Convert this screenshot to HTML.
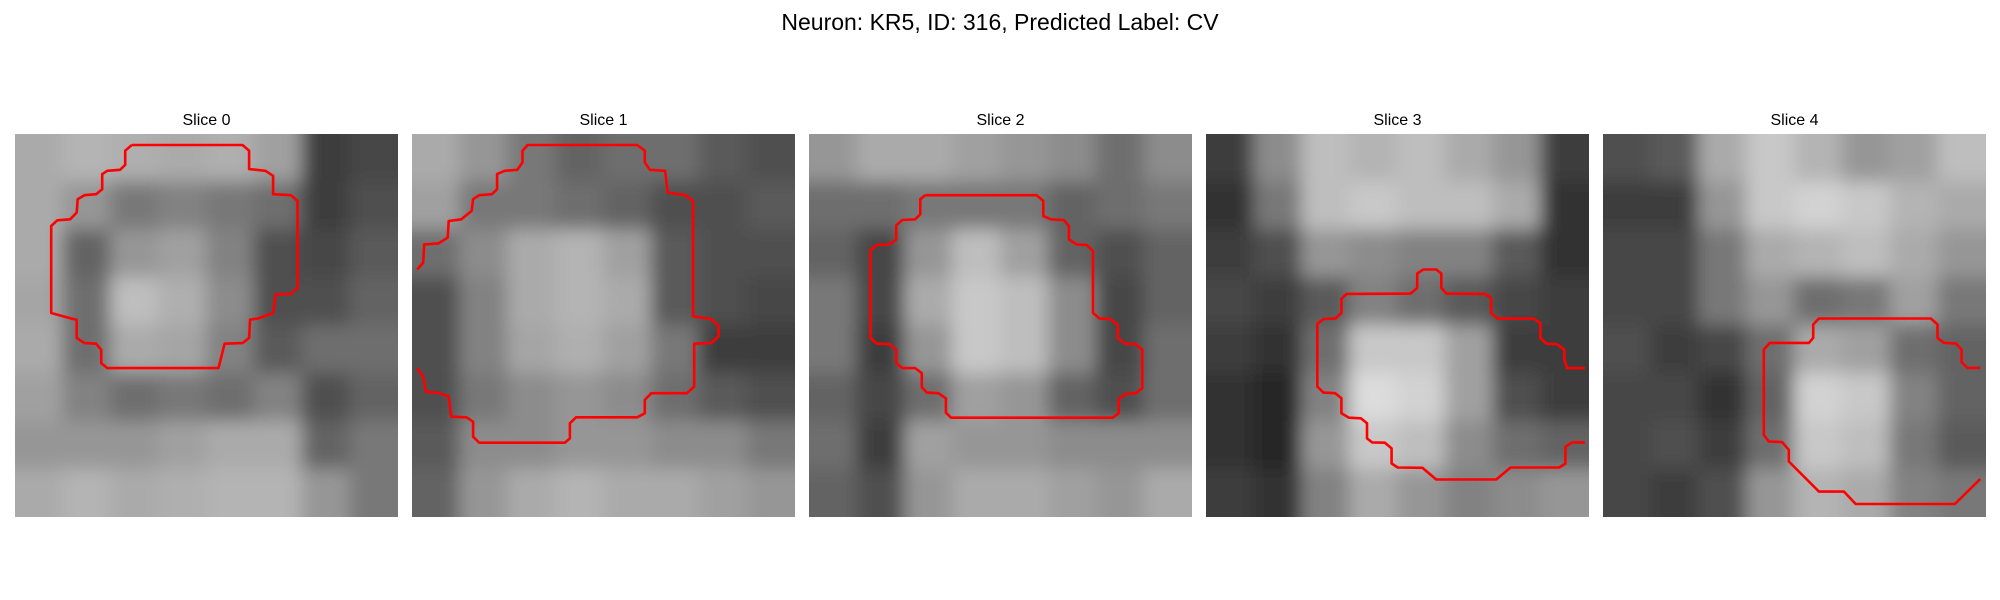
<!DOCTYPE html>
<html><head><meta charset="utf-8"><style>
html,body{margin:0;padding:0;background:#fff;}
svg{display:block;font-family:"Liberation Sans","DejaVu Sans",sans-serif;}
</style></head><body>
<svg id="fig" width="2000" height="600" viewBox="0 0 2000 600" xmlns="http://www.w3.org/2000/svg">
<defs>
<filter id="bl" x="-0.2" y="-0.2" width="1.4" height="1.4"><feGaussianBlur stdDeviation="9"/></filter>
</defs>
<text x="1000" y="30" text-anchor="middle" font-size="23" fill="#000">Neuron: KR5, ID: 316, Predicted Label: CV</text>
</svg>
<script>
const panelTitles = ["Slice 0","Slice 1","Slice 2","Slice 3","Slice 4"];
const gray0 = [[170,180,175,170,175,160,60,70],[170,150,120,130,120,110,60,80],[170,100,150,160,130,80,70,90],[165,110,190,175,140,80,80,100],[170,110,170,165,130,90,110,110],[160,130,110,120,110,130,80,100],[150,150,150,160,170,170,100,120],[170,180,170,175,180,180,150,120]];
const gray1 = [[170,150,120,100,110,110,90,80],[160,120,120,110,100,80,80,90],[110,140,170,180,160,90,80,80],[80,130,170,180,170,90,80,70],[80,130,165,175,160,120,60,60],[80,120,140,150,140,110,90,80],[90,140,140,150,150,140,140,120],[100,150,170,180,170,170,160,150]];
const gray2 = [[150,170,170,160,150,140,110,140],[110,110,120,120,120,100,110,120],[100,70,150,190,160,100,80,100],[120,70,170,200,190,140,70,100],[120,60,150,200,190,140,70,110],[100,70,110,160,150,100,80,110],[110,60,160,150,150,140,140,140],[100,80,150,170,170,160,150,170]];
const gray3 = [[60,140,190,180,190,170,150,60],[50,120,190,200,190,190,170,50],[60,80,150,140,130,130,90,50],[70,60,90,130,110,90,70,60],[60,50,110,200,200,160,60,60],[50,40,130,220,210,160,80,60],[50,40,150,200,190,140,110,100],[60,50,130,170,150,130,140,150]];
const gray4 = [[80,90,170,200,180,150,160,190],[60,60,150,200,210,200,180,170],[70,70,120,170,180,190,170,150],[70,70,120,150,110,120,160,120],[80,60,70,110,170,160,110,100],[70,70,50,100,210,200,130,100],[70,80,60,110,200,190,120,90],[70,60,80,150,180,170,130,120]];
const grays = [gray0,gray1,gray2,gray3,gray4];
const c0 = [29,45,751,1145,[[[258,78],[475,78],[488,95],[488,150],[520,155],[535,170],[535,225],[570,228],[583,245],[583,505],[570,523],[540,525],[535,580],[505,597],[490,600],[488,655],[475,670],[440,672],[428,745],[210,745],[198,730],[198,690],[188,672],[165,670],[150,655],[150,600],[140,597],[100,580],[100,320],[112,303],[137,300],[150,280],[152,240],[165,228],[188,225],[200,210],[200,165],[210,155],[235,152],[245,137],[245,95],[258,78]]]];
const c1 = [808,45,752,1145,[[[818,450],[830,430],[832,375],[860,372],[878,355],[880,305],[905,300],[925,275],[928,240],[940,228],[965,225],[975,210],[975,165],[990,155],[1015,152],[1025,130],[1025,95],[1035,78],[1250,78],[1265,95],[1265,130],[1275,152],[1305,155],[1310,220],[1345,228],[1360,245],[1360,590],[1395,598],[1410,618],[1410,650],[1395,670],[1362,672],[1362,800],[1348,820],[1278,820],[1265,840],[1265,880],[1250,892],[1130,892],[1118,910],[1118,955],[1108,968],[940,968],[928,950],[928,905],[915,892],[885,890],[880,830],[862,820],[835,815],[830,770],[818,745]]]];
const c2 = [18,45,747,1145,[[[245,228],[462,228],[475,245],[475,290],[490,300],[515,302],[525,320],[525,360],[540,375],[560,377],[572,395],[572,580],[585,597],[605,598],[620,615],[620,655],[635,672],[655,673],[668,690],[668,805],[655,820],[635,822],[622,838],[622,880],[610,893],[295,893],[285,878],[285,835],[270,820],[248,818],[238,802],[238,760],[225,745],[200,745],[188,730],[188,690],[175,673],[150,672],[138,655],[138,392],[150,377],[175,375],[188,360],[188,318],[200,302],[225,300],[235,285],[235,240],[245,228]]]];
const c3 = [796,45,747,1145,[[[1535,745],[1500,745],[1495,720],[1495,690],[1480,673],[1460,672],[1448,655],[1448,610],[1435,597],[1365,597],[1352,580],[1352,535],[1340,523],[1265,522],[1255,505],[1255,462],[1245,450],[1220,450],[1208,462],[1208,505],[1195,522],[1070,523],[1060,538],[1060,580],[1048,597],[1025,598],[1013,613],[1013,800],[1025,818],[1048,820],[1060,835],[1060,880],[1075,893],[1098,895],[1110,910],[1110,955],[1120,967],[1145,968],[1158,985],[1158,1030],[1170,1042],[1218,1043],[1245,1078],[1362,1078],[1390,1042],[1485,1042],[1497,1030],[1497,980],[1510,967],[1535,967]]]];
const c4 = [39,45,1146,1146,[[[1168,745],[1130,745],[1112,728],[1112,690],[1095,672],[1060,670],[1040,655],[1040,615],[1020,597],[685,597],[668,615],[668,655],[655,670],[538,670],[520,690],[520,945],[535,965],[575,967],[595,990],[595,1025],[685,1115],[760,1115],[795,1152],[1092,1152],[1168,1077]]]];
const contours = [c0,c1,c2,c3,c4];

const NS = "http://www.w3.org/2000/svg";
const svg = document.getElementById('fig');
const X0 = 15, Y0 = 134, SIZE = 383, STEP = 397, PAD = 40;
const defs = svg.querySelector('defs');
for (let p = 0; p < 5; p++) {
  const px = X0 + p * STEP;
  const cp = document.createElementNS(NS, 'clipPath');
  cp.setAttribute('id', 'cp' + p);
  const cr = document.createElementNS(NS, 'rect');
  cr.setAttribute('x', px); cr.setAttribute('y', Y0); cr.setAttribute('width', SIZE); cr.setAttribute('height', SIZE);
  cp.appendChild(cr); defs.appendChild(cp);

  const g = document.createElementNS(NS, 'g');
  
  
  svg.appendChild(g);

  const t = document.createElementNS(NS, 'text');
  
  
  t.setAttribute('x', px + SIZE / 2); t.setAttribute('y', 125);
  t.setAttribute('text-anchor', 'middle'); t.setAttribute('font-size', '16');
  t.textContent = panelTitles[p];
  g.appendChild(t);

  const clipG = document.createElementNS(NS, 'g');
  clipG.setAttribute('clip-path', 'url(#cp' + p + ')');
  g.appendChild(clipG);
  const img = document.createElementNS(NS, 'g');
  
  
  img.setAttribute('filter', 'url(#bl)');
  clipG.appendChild(img);
  const m = grays[p], n = m.length, cs = SIZE / n;
  for (let r = 0; r < n; r++) for (let c = 0; c < n; c++) {
    const v = m[r][c];
    let x = px + c * cs - 0.5, y = Y0 + r * cs - 0.5, w = cs + 1, h = cs + 1;
    if (c === 0) { x -= PAD; w += PAD; }
    if (c === n - 1) { w += PAD; }
    if (r === 0) { y -= PAD; h += PAD; }
    if (r === n - 1) { h += PAD; }
    const rc = document.createElementNS(NS, 'rect');
    rc.setAttribute('x', x); rc.setAttribute('y', y);
    rc.setAttribute('width', w); rc.setAttribute('height', h);
    rc.setAttribute('fill', `rgb(${v},${v},${v})`);
    img.appendChild(rc);
  }
  const [ox, oy, w, h, lines] = contours[p];
  lines.forEach((ln) => {
    const pl = document.createElementNS(NS, 'polyline');
    
    
    pl.setAttribute('points', ln.map(([x, y]) => (px + (x - ox) / w * SIZE).toFixed(1) + ',' + (Y0 + (y - oy) / h * SIZE).toFixed(1)).join(' '));
    pl.setAttribute('fill', 'none'); pl.setAttribute('stroke', '#ff0000');
    pl.setAttribute('stroke-width', '2.6'); pl.setAttribute('stroke-linejoin', 'round');
    clipG.appendChild(pl);
  });
}
</script>
</body></html>
